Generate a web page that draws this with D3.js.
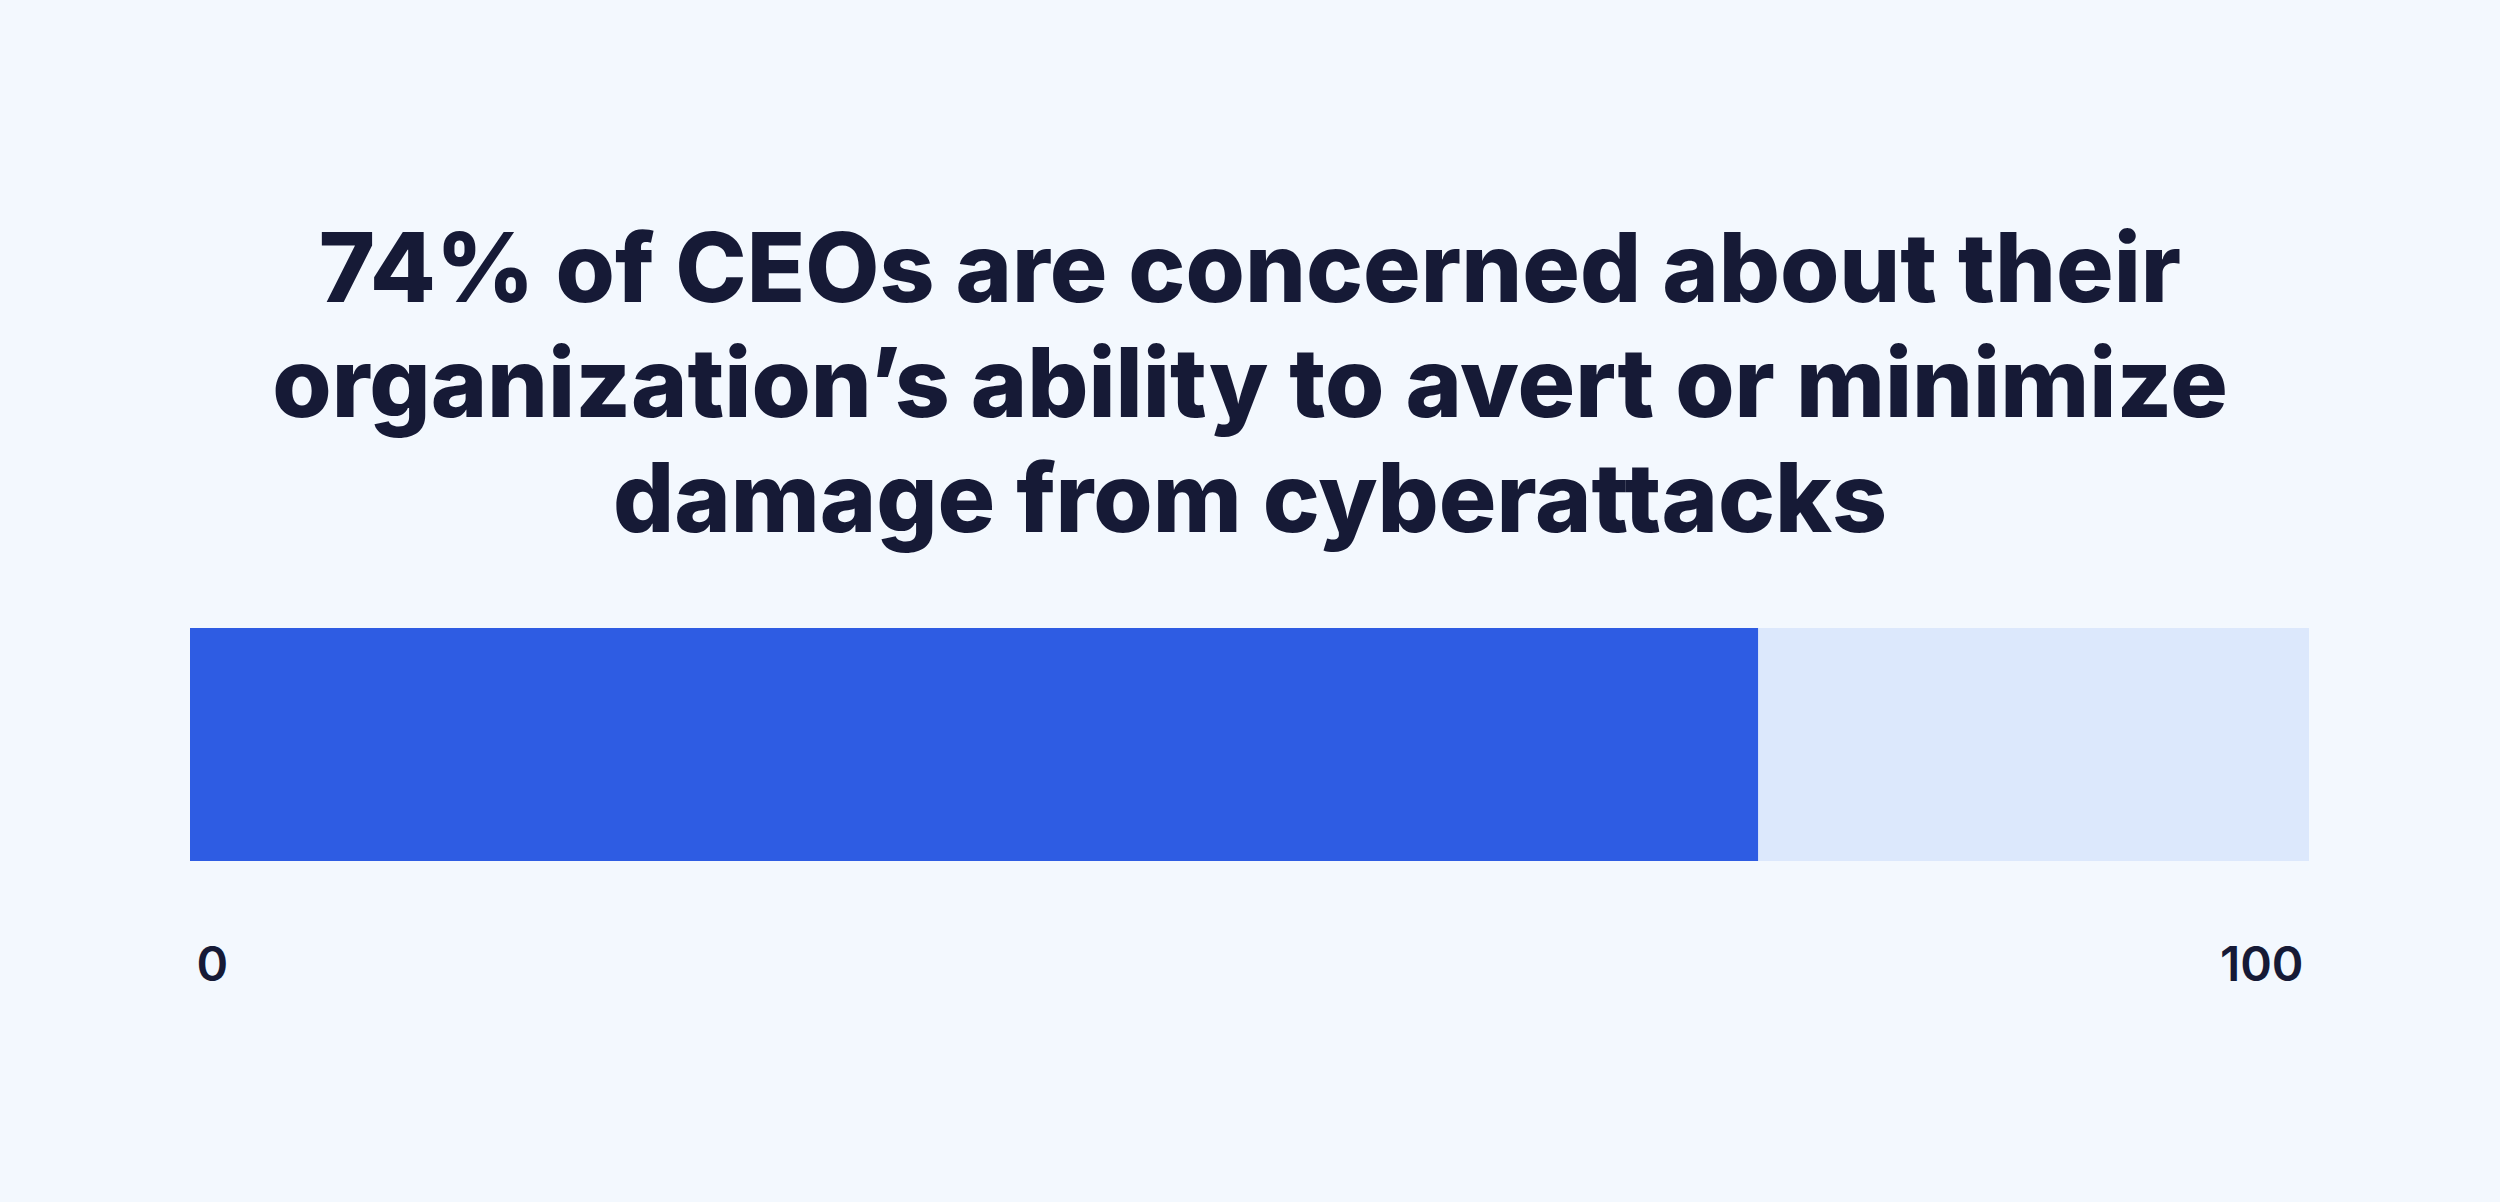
<!DOCTYPE html>
<html>
<head>
<meta charset="utf-8">
<script src="https://cdn.jsdelivr.net/npm/d3@7"></script>
<style>
  html, body { margin: 0; padding: 0; background: #f3f8fe; }
  svg { display: block; }
  .title { font-family: Inter, "Noto Sans", sans-serif; font-weight: 800; fill: #161a36; }
  .axis text { font-family: Inter, "Noto Sans", sans-serif; font-weight: 600; fill: #161a36; }
</style>
</head>
<body>
<div id="chart"></div>
<script>
// chart data
var titleLines = [
  "74% of CEOs are concerned about their",
  "organization’s ability to avert or minimize",
  "damage from cyberattacks"
];
var share = 74;          // % concerned
var total = 100;
var tickValues = [0, 100];

var svgWidth = 2500;
var svgHeight = 1202;

var margin = { left: 190, right: 191 };

var svg = d3.select("#chart")
  .append("svg")
  .attr("width", svgWidth)
  .attr("height", svgHeight);

svg.append("rect")
  .attr("width", svgWidth)
  .attr("height", svgHeight)
  .attr("fill", "#f3f8fe");

// title, centred
svg.append("text")
  .attr("class", "title")
  .attr("text-anchor", "middle")
  .attr("font-size", 96)
  .selectAll("tspan")
  .data(titleLines)
  .enter()
  .append("tspan")
  .attr("x", svgWidth / 2)
  .attr("y", function(d, i) { return 302 + i * 115; })
  .text(function(d) { return d; });

var x = d3.scaleLinear()
  .domain([0, total])
  .range([margin.left, svgWidth - margin.right]);

var barTop = 628;
var barHeight = 233;

// track
svg.append("rect")
  .attr("x", x(0))
  .attr("y", barTop)
  .attr("width", x(total) - x(0))
  .attr("height", barHeight)
  .attr("fill", "#dce8fc");

// value
svg.append("rect")
  .attr("x", x(0))
  .attr("y", barTop)
  .attr("width", x(share) - x(0))
  .attr("height", barHeight)
  .attr("fill", "#2e5ce3");

// axis with just the end labels
var axis = svg.append("g")
  .attr("class", "axis")
  .attr("transform", "translate(0," + (barTop + barHeight) + ")")
  .call(d3.axisBottom(x).tickValues(tickValues).tickSize(0).tickPadding(86));

axis.select(".domain").remove();
axis.selectAll("text")
  .attr("font-size", 48)
  .attr("text-anchor", function(d) { return d === 0 ? "start" : "end"; })
  .attr("dx", function(d) { return d === 0 ? 6 : -6; });
</script>
</body>
</html>
